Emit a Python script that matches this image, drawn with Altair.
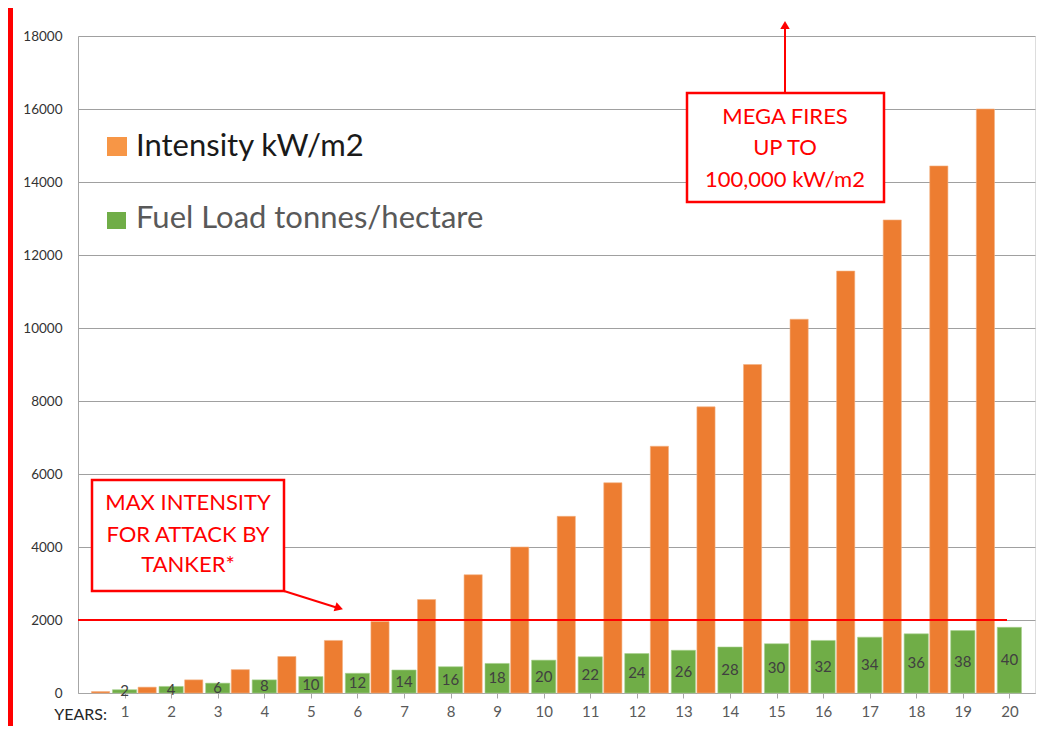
import altair as alt
import pandas as pd

# ---- data ----
years = list(range(1, 21))
intensity = [40, 160, 360, 640, 1000, 1440, 1960, 2560, 3240, 4000,
             4840, 5760, 6760, 7840, 9000, 10240, 11560, 12960, 14440, 16000]
fuel_load = [2, 4, 6, 8, 10, 12, 14, 16, 18, 20,
             22, 24, 26, 28, 30, 32, 34, 36, 38, 40]
fuel_bar_height = [90, 180, 270, 360, 450, 540, 630, 720, 810, 900,
                   990, 1080, 1170, 1260, 1350, 1440, 1530, 1620, 1710, 1800]
y_ticks = list(range(0, 18001, 2000))
max_attack_intensity = 2000

df = pd.DataFrame({"year": years, "intensity": intensity,
                   "fuel": fuel_load, "fuel_h": fuel_bar_height})

FONT = "Lato"
ORANGE = "#ED7D31"
GREEN = "#70AD47"
RED = "#FF0000"

W, H = 957, 657
xscale = alt.Scale(domain=[0, 20.55], nice=False, zero=False)
yscale = alt.Scale(domain=[0, 18000], nice=False)

x_axis = alt.Axis(values=years, format="d", grid=False, title=None,
                  domainColor="#a6a6a6", tickColor="#a6a6a6", tickSize=5,
                  labelColor="#595959", labelFontSize=15, labelPadding=6,
                  labelFont=FONT)
y_axis = alt.Axis(values=y_ticks, format="d", grid=True, gridColor="#a0a0a0",
                  domainColor="#a6a6a6", ticks=False, title=None,
                  labelColor="#333333", labelFontSize=13.5, labelPadding=16,
                  labelFont=FONT)

base = alt.Chart(df)

orange_bars = base.transform_calculate(
    x1="datum.year - 0.71", x2="datum.year - 0.32"
).mark_rect(color=ORANGE, stroke="#F4B183", strokeWidth=0.6).encode(
    x=alt.X("x1:Q", scale=xscale, axis=x_axis),
    x2="x2:Q",
    y=alt.Y("intensity:Q", scale=yscale, axis=y_axis),
    y2=alt.datum(0),
)

green_bars = base.transform_calculate(
    x1="datum.year - 0.26", x2="datum.year + 0.26"
).mark_rect(color=GREEN, stroke="#A9D18E", strokeWidth=0.6).encode(
    x=alt.X("x1:Q", scale=xscale, axis=x_axis),
    x2="x2:Q",
    y=alt.Y("fuel_h:Q", scale=yscale, axis=y_axis),
    y2=alt.datum(0),
)

green_labels = base.transform_calculate(
    mid="datum.fuel_h / 2"
).mark_text(font=FONT, fontSize=15, color="#404040", baseline="middle").encode(
    x=alt.X("year:Q", scale=xscale, axis=x_axis),
    y=alt.Y("mid:Q", scale=yscale, axis=y_axis),
    text="fuel:Q",
)

red_line = alt.Chart(pd.DataFrame({"v": [max_attack_intensity]})).mark_rule(
    color=RED, strokeWidth=2
).encode(
    y=alt.Y("v:Q", scale=yscale, axis=y_axis),
    x=alt.value(0), x2=alt.value(929),
)

one = pd.DataFrame({"k": [0]})


def txt(s, x, y, size, color, align="left", baseline="alphabetic"):
    return alt.Chart(one).mark_text(
        text=s, font=FONT, fontSize=size, color=color, align=align,
        baseline=baseline
    ).encode(x=alt.value(x), y=alt.value(y))


def box(x1, x2, y1, y2, fill="white", stroke=None, sw=0):
    kw = dict(fill=fill)
    if stroke:
        kw.update(stroke=stroke, strokeWidth=sw)
    return alt.Chart(one).mark_rect(**kw).encode(
        x=alt.value(x1), x2=alt.value(x2), y=alt.value(y1), y2=alt.value(y2))


def seg(x1, y1, x2, y2, color=RED, sw=2):
    return alt.Chart(one).mark_rule(color=color, strokeWidth=sw).encode(
        x=alt.value(x1), y=alt.value(y1), x2=alt.value(x2), y2=alt.value(y2))


def head(x, y, shape, angle, size=90):
    return alt.Chart(one).mark_point(
        shape=shape, filled=True, color=RED, size=size, angle=angle, opacity=1
    ).encode(x=alt.value(x), y=alt.value(y))


layers = [
    orange_bars, green_bars, green_labels, red_line,
    # legend
    box(29, 49, 101, 120, fill="#F79646"),
    txt("Intensity kW/m2", 58, 120, 31, "#1a1a1a"),
    box(29, 48, 176, 193, fill=GREEN),
    txt("Fuel Load tonnes/hectare", 58, 192, 31, "#595959"),
    # annotation 1
    box(14, 206, 444, 555, fill="white", stroke=RED, sw=2.5),
    txt("MAX INTENSITY", 110, 467, 22, RED, "center", "middle"),
    txt("FOR ATTACK BY", 110, 499, 22, RED, "center", "middle"),
    txt("TANKER*", 110, 529, 22, RED, "center", "middle"),
    seg(206, 555, 260, 572),
    head(261, 572, "triangle-right", 18),
    # annotation 2
    box(609, 806, 57, 166, fill="white", stroke=RED, sw=2.5),
    txt("MEGA FIRES", 707, 81, 22, RED, "center", "middle"),
    txt("UP TO", 707, 112, 22, RED, "center", "middle"),
    txt("100,000 kW/m2", 707, 144, 22, RED, "center", "middle"),
    seg(707, 57, 707, -10),
    head(707, -11, "triangle-up", 0),
    # x axis caption
    txt("YEARS:", 29, 684, 16, "#262626", "right"),
    # red frame (left)
    box(-70, -65, -28, 690, fill=RED),
]

chart = alt.layer(*layers).properties(
    width=W, height=H,
    autosize=alt.AutoSizeParams(type="none"),
    padding={"left": 70, "top": 28, "right": 2, "bottom": 33},
).configure_view(strokeWidth=0).configure(font=FONT, background="white")

chart.save("out.html", embed_options={"renderer": "svg", "actions": False})
